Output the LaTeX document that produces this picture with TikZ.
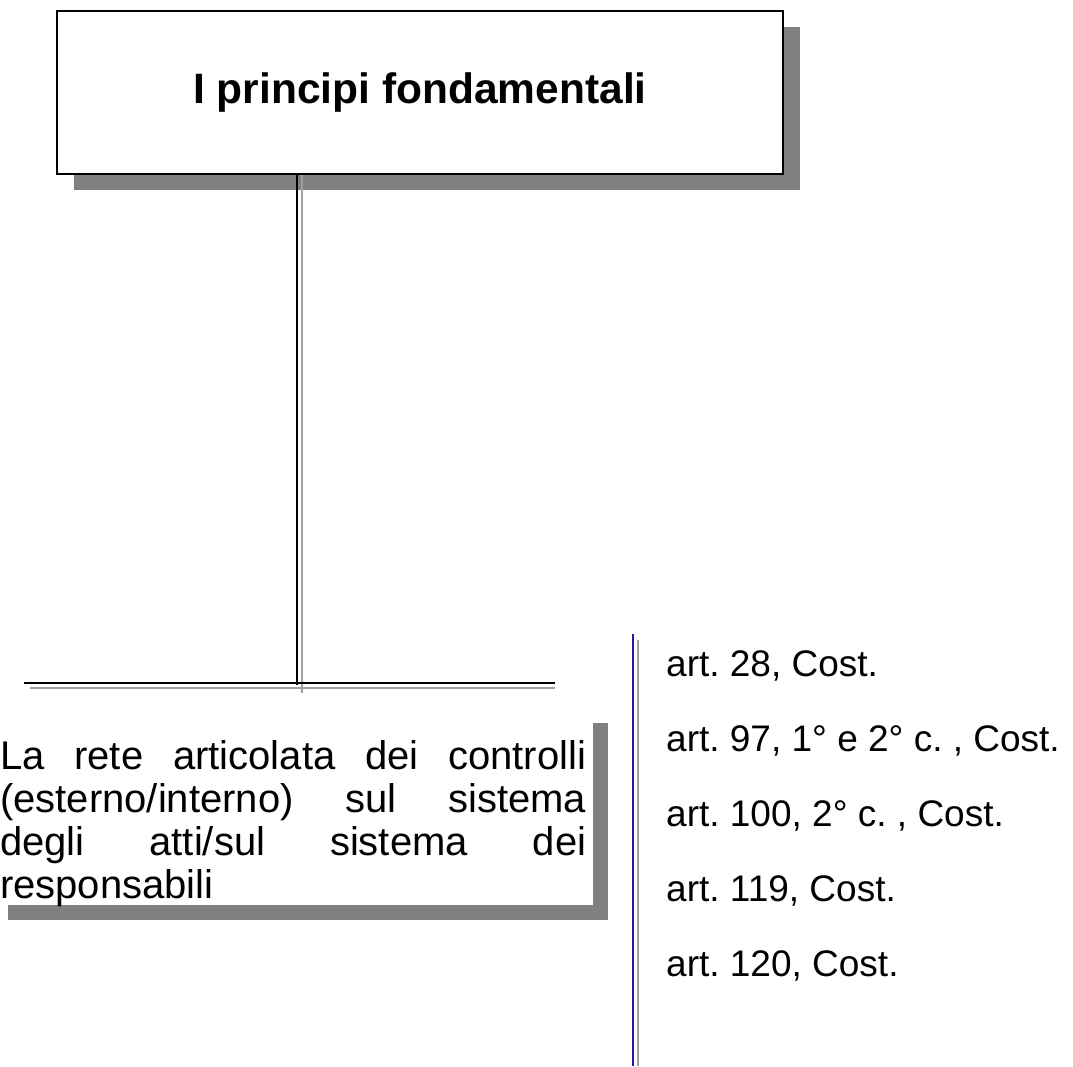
\documentclass[tikz,border=0pt]{standalone}
\usepackage{fontspec}
\setmainfont{Liberation Sans}
\usetikzlibrary{shadows}
\definecolor{shadegray}{RGB}{128,128,128}
\definecolor{palegray}{RGB}{160,160,160}
\definecolor{rulenavy}{RGB}{30,30,150}
\frenchspacing
\begin{document}
\begin{tikzpicture}[x=1pt,y=-1pt,
  titlebox/.style={draw=black, line width=2pt, fill=white, inner sep=0pt,
    minimum width=726pt, minimum height=163pt,
    font=\fontsize{42.5}{50}\selectfont\bfseries,
    drop shadow={shadow xshift=17pt, shadow yshift=-16pt, opacity=1, fill=shadegray}},
  panel/.style={fill=white, inner sep=0pt, anchor=north west,
    minimum width=600pt, minimum height=197pt,
    drop shadow={shadow xshift=15pt, shadow yshift=-15pt, opacity=1, fill=shadegray}},
  bodytext/.style={anchor=north west, inner sep=0pt, text width=586pt,
    align=justify, font=\fontsize{40}{43}\selectfont},
  ref/.style={anchor=base west, inner sep=0pt, font=\fontsize{37}{43}\selectfont},
  darkline/.style={line width=2pt, draw=black},
  lightline/.style={line width=2pt, draw=palegray},
]
\useasboundingbox (0,0) rectangle (1073,1066);

% heading box
\node[titlebox] (title) at (420,92.5) {I principi fondamentali};

% branch points of the double connector
\coordinate (jdark) at (297,683);
\coordinate (jlight) at (302,688);
\coordinate (ldark) at (24,683);
\coordinate (rdark) at (555,683);
\coordinate (llight) at (30,688);
\coordinate (rlight) at (555,688);

% double connector: grey echo first, black line on top
\draw[lightline] (title.south -| jlight) -- ([yshift=-5pt]jlight);
\draw[lightline] (llight) -- (rlight);
\draw[darkline] (title.south -| jdark) -- ([yshift=-2pt]jdark);
\draw[darkline] (ldark) -- (rdark);

% text panel with shadow
\node[panel] (panel) at (-7,708) {};
\node[bodytext] (body) at (0,740) {\tolerance=10000\hyphenpenalty=10000
  La rete articolata dei controlli\linebreak
  (esterno/interno) sul sistema\linebreak
  degli atti/sul sistema dei\linebreak
  responsabili};

% vertical rule beside the article list
\coordinate (navytop) at (633,634);
\coordinate (navybot) at (633,1066);
\coordinate (greytop) at (638,640);
\coordinate (greybot) at (638,1066);
\draw[line width=2pt, draw=rulenavy] (navytop) -- (navybot);
\draw[lightline] (greytop) -- (greybot);

% list of articles
\node[ref] (r1) at (666,676) {art. 28, Cost.};
\node[ref] (r2) at (666,751) {art. 97, 1° e 2° c. , Cost.};
\node[ref] (r3) at (666,826) {art. 100, 2° c. , Cost.};
\node[ref] (r4) at (666,901) {art. 119, Cost.};
\node[ref] (r5) at (666,976) {art. 120, Cost.};
\end{tikzpicture}
\end{document}
